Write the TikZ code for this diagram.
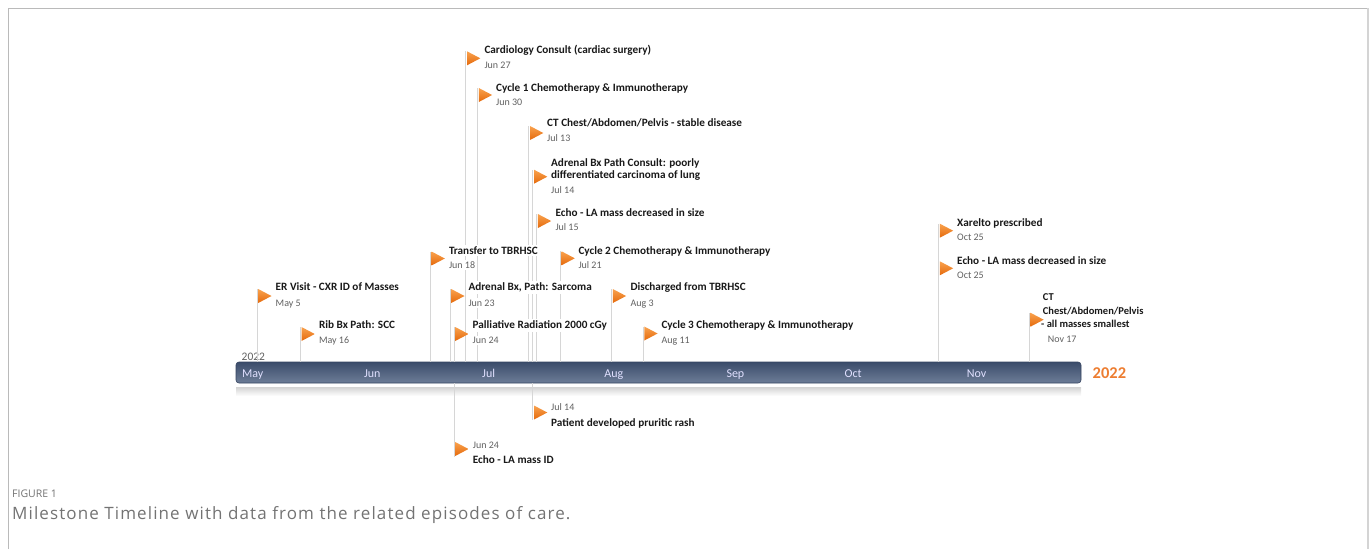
\documentclass[tikz,border=0pt]{standalone}
\usepackage{fontspec}
\setmainfont{Carlito}
\newfontfamily\capfont{Open Sans}
\newfontfamily\capfontsp[LetterSpace=6.5]{Open Sans}
\begin{document}
\begin{tikzpicture}[x=1pt,y=-1pt,
  pole/.style={draw=black!16,line width=0.8pt},
  flagshade/.style={top color=flagtop,bottom color=flagbot,draw=none},
  lbl/.style={anchor=base west,inner xsep=1pt,inner ysep=1.5pt,fill=white},
  ttl/.style={lbl,font=\fontsize{11.2}{13}\selectfont\bfseries,text=black!90},
  ttls/.style={lbl,font=\fontsize{10.5}{12}\selectfont\bfseries,text=black!90},
  dte/.style={lbl,font=\fontsize{10}{12}\selectfont,text=black!62},
  mon/.style={anchor=base west,inner sep=0pt,font=\fontsize{12}{14}\selectfont,text=white!88!blue},
  framec/.style={draw=black!27,line width=1pt}]
\definecolor{flagtop}{HTML}{F9A24E}
\definecolor{flagbot}{HTML}{E56A0C}
\useasboundingbox (0,0) rectangle (1370,549);
% frame
\draw[framec] (8,549) -- (8,8) -- (1368,8);
\draw[draw=black!17,line width=2pt] (1368,8) -- (1368,549);
% timeline bar
\definecolor{bartop}{HTML}{3B4C6B}
\definecolor{barbot}{HTML}{6D7D97}
\node[draw=bartop!90!black,line width=0.6pt,top color=bartop,bottom color=barbot,rounded corners=3pt,
  minimum width=845pt,minimum height=21pt,inner sep=0pt] (bar) at (658.5,372.5) {};
\shade[top color=black!17,bottom color=white] (236,387) rectangle (1081,396);
% months
\node[mon] (mmay) at (242,377) {May};
\node[mon] (mjun) at (363.8,377) {Jun};
\node[mon] (mjul) at (482,377) {Jul};
\node[mon] (maug) at (604.2,377) {Aug};
\node[mon] (msep) at (726.3,377) {Sep};
\node[mon] (moct) at (844.5,377) {Oct};
\node[mon] (mnov) at (966.6,377) {Nov};
\node[anchor=base west,inner sep=0pt,font=\fontsize{11.5}{13}\selectfont,text=black!62] (yl) at (241.5,360) {2022};
\definecolor{yearor}{HTML}{ED7D31}
\node[anchor=base west,inner sep=0pt,font=\fontsize{16.5}{18}\selectfont\bfseries,text=yearor] (yr) at (1092.5,378.3) {2022};
% milestone macros: name, pole x, flag centre y
\newcommand{\flagup}[3]{%
  \coordinate (#1b) at (#2,362);
  \coordinate (#1t) at (#2,#3-7);
  \draw[pole] (#1b) -- (#1t);}
\newcommand{\flagdown}[3]{%
  \coordinate (#1b) at (#2,383);
  \coordinate (#1t) at (#2,#3+7.5);
  \draw[pole] (#1b) -- (#1t);}
\newcommand{\flagtri}[2]{%
  \shade[flagshade] (#1+1.2,#2-7) -- (#1+14.5,#2) -- (#1+1.2,#2+7) -- cycle;}
% poles
\flagup{a}{257}{296}
\flagup{b}{300.3}{334}
\flagup{c}{430.3}{258.5}
\flagup{d}{450}{296}
\flagup{e}{454}{334}
\flagup{f}{465.8}{58.3}
\flagup{g}{477.6}{95}
\flagup{h}{528.8}{133}
\flagup{i}{532.8}{176.7}
\flagup{j}{536.7}{221}
\flagup{k}{560.3}{258.3}
\flagup{l}{611.6}{296}
\flagup{m}{643.1}{333.5}
\flagup{n}{938.6}{230.7}
\flagup{o}{938.6}{268.3}
\flagup{p}{1029.2}{319.7}
\flagdown{q}{532.8}{412.5}
\flagdown{r}{454}{449}
% labels
\node[ttl] (at) at (274.5,290.5) {ER Visit - CXR ID of Masses};
\node[dte] (ad) at (274.5,306) {May 5};
\node[ttl] (bt) at (317.8,328.5) {Rib Bx Path: SCC};
\node[dte] (bd) at (317.8,343.5) {May 16};
\node[ttl] (ct) at (447.8,254) {Transfer to TBRHSC};
\node[dte] (cd) at (447.8,268.3) {Jun 18};
\node[ttl] (dt) at (467.3,290.5) {Adrenal Bx, Path: Sarcoma};
\node[dte] (dd) at (467.3,306) {Jun 23};
\node[ttl] (et) at (471.5,328.5) {Palliative Radiation 2000 cGy};
\node[dte] (ed) at (471.5,343.5) {Jun 24};
\node[ttl] (ft) at (483.3,53.3) {Cardiology Consult (cardiac surgery)};
\node[dte] (fd) at (483.3,68.3) {Jun 27};
\node[ttl] (gt) at (495,91) {Cycle 1 Chemotherapy \& Immunotherapy};
\node[dte] (gd) at (495,105) {Jun 30};
\node[ttl] (ht) at (546,126.7) {CT Chest/Abdomen/Pelvis - stable disease};
\node[dte] (hd) at (546,141.7) {Jul 13};
\node[ttl] (it1) at (550,166) {Adrenal Bx Path Consult: poorly};
\node[ttl] (it2) at (550,178.5) {differentiated carcinoma of lung};
\node[dte] (id) at (550,193.3) {Jul 14};
\node[ttl] (jt) at (554.3,216) {Echo - LA mass decreased in size};
\node[dte] (jd) at (554.3,230.7) {Jul 15};
\node[ttl] (kt) at (577.3,254) {Cycle 2 Chemotherapy \& Immunotherapy};
\node[dte] (kd) at (577.3,268.3) {Jul 21};
\node[ttl] (lt) at (629.3,290.5) {Discharged from TBRHSC};
\node[dte] (ld) at (629.3,306) {Aug 3};
\node[ttl] (mt) at (660.3,328) {Cycle 3 Chemotherapy \& Immunotherapy};
\node[dte] (md) at (660.3,343) {Aug 11};
\node[ttl] (nt) at (956,226.7) {Xarelto prescribed};
\node[dte] (nd) at (956,240.7) {Oct 25};
\node[ttl] (ot) at (956,264) {Echo - LA mass decreased in size};
\node[dte] (od) at (956,278.3) {Oct 25};
\node[ttls] (pt1) at (1041.7,300.7) {CT};
\node[ttls] (pt2) at (1041.7,314.5) {Chest/Abdomen/Pelvis};
\node[ttls] (pt3) at (1040,327.8) {- all masses smallest};
\node[dte] (pd) at (1046.7,342.7) {Nov 17};
\node[dte] (qd) at (550,410) {Jul 14};
\node[ttl] (qt) at (550,426) {Patient developed pruritic rash};
\node[dte] (rd) at (471.7,448.3) {Jun 24};
\node[ttl] (rt) at (471.7,463.3) {Echo - LA mass ID};
% flags
\flagtri{257}{296}
\flagtri{300.3}{334}
\flagtri{430.3}{258.5}
\flagtri{450}{296}
\flagtri{454}{334}
\flagtri{465.8}{58.3}
\flagtri{477.6}{95}
\flagtri{528.8}{133}
\flagtri{532.8}{176.7}
\flagtri{536.7}{221}
\flagtri{560.3}{258.3}
\flagtri{611.6}{296}
\flagtri{643.1}{333.5}
\flagtri{938.6}{230.7}
\flagtri{938.6}{268.3}
\flagtri{1029.2}{319.7}
\flagtri{532.8}{412.5}
\flagtri{454}{449}
% caption
\node[anchor=base west,inner sep=0pt,font=\capfont\fontsize{10.5}{12}\selectfont,text=black!55] (fig) at (12,497) {FIGURE 1};
\node[anchor=base west,inner sep=0pt,font=\capfontsp\fontsize{17}{20}\selectfont,text=black!55] (cap) at (12,519) {Milestone Timeline with data from the related episodes of care.};
\end{tikzpicture}
\end{document}
